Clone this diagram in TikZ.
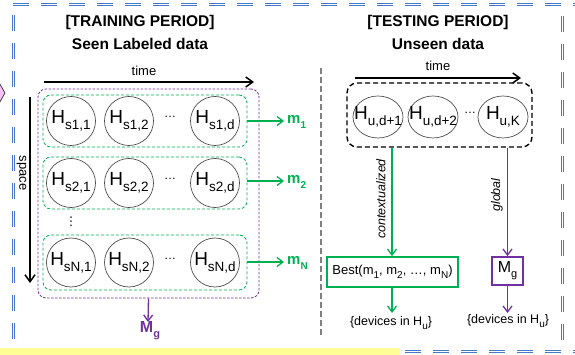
\documentclass[tikz,border=0pt]{standalone}
\usepackage{fontspec}
\setmainfont{Liberation Sans}
\newfontfamily\dejavu{DejaVu Sans}
\usetikzlibrary{shapes.geometric,arrows.meta,calc}
\definecolor{gr}{RGB}{0,176,80}
\definecolor{pu}{RGB}{112,48,160}
\definecolor{framecol}{RGB}{70,120,200}
\definecolor{ye}{RGB}{255,255,150}
\definecolor{pk}{RGB}{245,195,245}
\definecolor{sep}{RGB}{128,128,128}
\newcommand\Hsub[1]{H\raisebox{-0.3em}{\fontsize{13.5}{13.5}\selectfont #1}}
\newcommand\msub[2]{#1\raisebox{-0.3em}{\fontsize{10}{10}\selectfont #2}}
\begin{document}
\begin{tikzpicture}[x=1pt,y=-1pt,
  frameline/.style={draw=framecol, line width=0.9pt, dash pattern=on 16pt off 12pt},
  title/.style={font=\fontsize{15.5}{18}\selectfont\bfseries, inner sep=0},
  timelbl/.style={font=\fontsize{13}{15}\selectfont, inner sep=0},
  bigarrow/.style={line width=1.5pt, -{Straight Barb[length=7pt,width=10pt]}},
  hc/.style={circle, draw=black!70, line width=0.7pt, minimum size=49pt, inner sep=0},
  he/.style={ellipse, draw=black!70, line width=0.7pt, minimum width=50pt, minimum height=42pt, inner sep=0},
  htext/.style={font=\fontsize{19}{20}\selectfont, inner sep=0},
  dots/.style={font=\fontsize{12}{12}\selectfont, inner sep=0},
  rowbox/.style={draw=gr, line width=0.8pt, dash pattern=on 3pt off 2pt, rounded corners=8pt},
  garrow/.style={draw=gr, line width=1.3pt, -{Straight Barb[length=6pt,width=9pt]}},
  parrow/.style={draw=pu, line width=1.3pt, -{Straight Barb[length=6pt,width=9pt]}},
  mlbl/.style={text=gr, font=\fontsize{15}{16}\selectfont\bfseries, inner sep=0, anchor=west},
  smalltxt/.style={font=\fontsize{12.5}{14}\selectfont, inner sep=0}
]
\useasboundingbox (0,0) rectangle (575,355);
% page decorations
\fill[ye] (0,348) rectangle (400,355);
\foreach \o in {-1,1}{
  \draw[frameline] (13,4.5+\o) -- (575,4.5+\o);
  \draw[frameline] (405,351+\o) -- (575,351+\o);
  \draw[frameline] (13+\o,15) -- (13+\o,340);
  \draw[frameline] (562.5+\o,16) -- (562.5+\o,340);
}
\draw[fill=pk, draw=black!80, line width=0.7pt] (-3,79) -- (5,93) -- (-3,107);

% titles
\node[title] (t1a) at (140,22) {[TRAINING PERIOD]};
\node[title] (t1b) at (140,44) {Seen Labeled data};
\node[title] (t2a) at (438,22) {[TESTING PERIOD]};
\node[title] (t2b) at (438,44) {Unseen data};

% left time / space
\node[timelbl] (time1) at (144,71) {time};
\coordinate (ta) at (44,82);
\coordinate (tb) at (254,82);
\draw[bigarrow] (ta) -- (tb);
\coordinate (sa) at (30,97);
\coordinate (sb) at (30,283);
\draw[bigarrow] (sa) -- (sb);
\node[timelbl, rotate=-90] (space) at (21.5,173) {space};

% purple group
\node[draw=pu, line width=0.8pt, dash pattern=on 2.5pt off 1.5pt, rounded corners=8pt,
      minimum width=221pt, minimum height=209pt, inner sep=0] (pbox) at (148.5,193.5) {};
% rows
\node[rowbox, minimum width=204pt, minimum height=52pt, inner sep=0] (r1) at (145,121) {};
\node[rowbox, minimum width=204pt, minimum height=52pt, inner sep=0] (r2) at (145,183) {};
\node[rowbox, minimum width=204pt, minimum height=55pt, inner sep=0] (rN) at (145,262.5) {};

\foreach \r/\y/\s in {1/121/s1, 2/183/s2, N/262.5/sN}{
  \node[hc] (c\r a) at (71,\y) {};
  \node[htext] (h\r a) at (71,\y) {\Hsub{\s,1}};
  \node[hc] (c\r b) at (129,\y) {};
  \node[htext] (h\r b) at (129,\y) {\Hsub{\s,2}};
  \node[hc] (c\r d) at (215,\y) {};
  \node[htext] (h\r d) at (215,\y) {\Hsub{\s,d}};
  \node[dots] (dd\r) at (170,\y-4) {…};
}
\node[font=\dejavu\fontsize{12}{12}\selectfont, inner sep=0] (vd) at (71,222) {⋮};

% model arrows
\coordinate (m1t) at (284,121);
\coordinate (m2t) at (284,181);
\coordinate (mNt) at (284,262);
\draw[garrow] (r1.east |- m1t) -- (m1t);
\draw[garrow] (r2.east |- m2t) -- (m2t);
\draw[garrow] (rN.east |- mNt) -- (mNt);
\node[mlbl] (m1) at (287,122) {\msub{m}{1}};
\node[mlbl] (m2) at (287,182) {\msub{m}{2}};
\node[mlbl] (mN) at (287,263) {\msub{m}{N}};

\coordinate (mgt) at (148,322);
\draw[parrow] (pbox.south) -- (mgt);
\node[text=pu, font=\fontsize{16}{17}\selectfont\bfseries, inner sep=0] (Mg1) at (150,331) {M\raisebox{-0.3em}{\fontsize{11}{11}\selectfont g}};

% separator
\coordinate (s1) at (321,68);
\coordinate (s2) at (321,336);
\draw[sep, line width=1.6pt, dash pattern=on 6pt off 3pt] (s1) -- (s2);

% right side
\node[timelbl] (time2) at (438,66) {time};
\coordinate (ua) at (355,78);
\coordinate (ub) at (521,78);
\draw[bigarrow] (ua) -- (ub);
\node[draw=black, line width=1.4pt, dash pattern=on 5pt off 3pt, rounded corners=10pt,
      minimum width=185pt, minimum height=64pt, inner sep=0] (ubox) at (439.5,115) {};
\node[he] (e1) at (378,117) {};
\node[htext] (he1) at (378,117) {\Hsub{u,d+1}};
\node[he] (e2) at (433,117) {};
\node[htext] (he2) at (433,117) {\Hsub{u,d+2}};
\node[he] (e3) at (503,117) {};
\node[htext] (he3) at (503,117) {\Hsub{u,K}};
\node[dots] (ddu) at (470,113) {…};

\node[draw=gr, line width=1.8pt, minimum width=131pt, minimum height=30pt, inner sep=0,
      font=\fontsize{13}{14}\selectfont] (best) at (392.5,272)
      {Best(\msub{m}{1}, \msub{m}{2}, …, \msub{m}{N})};
\node[draw=pu, line width=1.8pt, minimum width=31pt, minimum height=28pt, inner sep=0,
      font=\fontsize{16}{17}\selectfont] (mgbox) at (507.5,271)
      {M\raisebox{-0.3em}{\fontsize{11}{11}\selectfont g}};

\draw[garrow] (ubox.south -| best.north) ++(-0.5,0) coordinate (gs) -- (gs |- best.north);
\draw[parrow] (ubox.south -| mgbox.north) -- (mgbox.north);
\node[smalltxt, font=\fontsize{12.5}{14}\selectfont\itshape, rotate=90] (ctx) at (381,199) {contextualized};
\node[smalltxt, font=\fontsize{12.5}{14}\selectfont\itshape, rotate=90] (glb) at (497,195) {global};

\coordinate (d1t) at (392,313);
\coordinate (d2t) at (507.5,313);
\draw[garrow] (best.south -| d1t) -- (d1t);
\draw[parrow] (mgbox.south) -- (d2t);
\node[smalltxt] (dev1) at (391,323) {\{devices in \msub{H}{u}\}};
\node[smalltxt] (dev2) at (508,321) {\{devices in \msub{H}{u}\}};
\end{tikzpicture}
\end{document}
